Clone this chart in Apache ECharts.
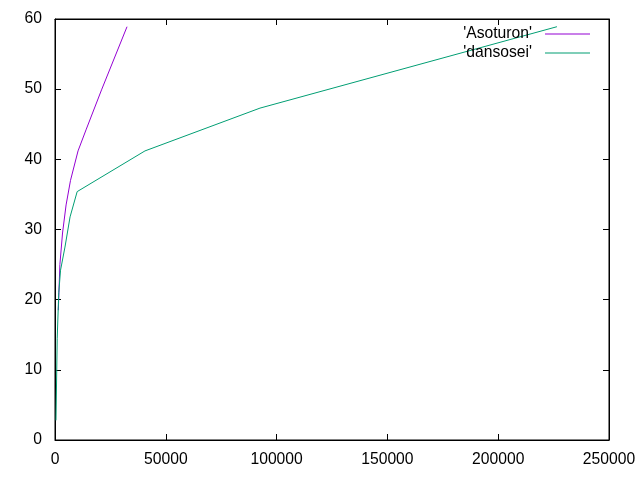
<!DOCTYPE html>
<html><head><meta charset="utf-8">
<script src="https://cdn.jsdelivr.net/npm/echarts@6/dist/echarts.min.js"></script>
<style>html,body{margin:0;padding:0;background:#fff}#c{width:640px;height:480px}</style>
</head><body><div id="c"></div>
<script>
const seriesNames = ["'Asoturon'", "'dansosei'"];
const asoturonX = [1500, 2200, 3400, 5000, 7000, 10400, 14000, 21000, 32500];
const asoturonY = [18.5, 25, 29.5, 33.5, 37, 41.2, 44.2, 49.9, 58.9];
const dansoseiX = [450, 1000, 1700, 2500, 4500, 6800, 10000, 40600, 92500, 226500];
const dansoseiY = [2.8, 14.5, 21, 24.2, 27.5, 31.8, 35.4, 41.2, 47.3, 58.9];
const xTicks = {min: 0, max: 250000, interval: 50000};
const yTicks = {min: 0, max: 60, interval: 10};

const font = 'Liberation Sans, Arial, sans-serif';
const fs = 15.7;
const chart = echarts.init(document.getElementById('c'), null, {renderer: 'canvas'});
const zip = (xs, ys) => xs.map((x, i) => [x, ys[i]]);
const axisCommon = {
  axisLine: {show: true, onZero: false, lineStyle: {color: '#000', width: 1}},
  axisTick: {show: true, inside: true, length: 6, lineStyle: {color: '#000'}},
  splitLine: {show: false}
};
chart.setOption({
  animation: false,
  grid: {left: 55, right: 31, top: 19, bottom: 40, show: true, borderColor: '#000', borderWidth: 1},
  legend: {
    right: 45, top: 21, orient: 'vertical', align: 'right', itemWidth: 45, itemHeight: 1, itemGap: 3,
    icon: 'rect',
    textStyle: {fontFamily: font, fontSize: fs, color: '#000', lineHeight: 16, padding: [0, 8, 0, 0]},
    data: seriesNames
  },
  xAxis: [
    Object.assign({type: 'value', position: 'bottom', min: xTicks.min, max: xTicks.max, interval: xTicks.interval,
      axisLabel: {fontFamily: font, fontSize: fs, color: '#000', margin: 12, formatter: v => String(v)}}, axisCommon),
    Object.assign({type: 'value', position: 'top', min: xTicks.min, max: xTicks.max, interval: xTicks.interval,
      axisLabel: {show: false}}, axisCommon)
  ],
  yAxis: [
    Object.assign({type: 'value', position: 'left', min: yTicks.min, max: yTicks.max, interval: yTicks.interval,
      axisLabel: {fontFamily: font, fontSize: fs, color: '#000', margin: 13}}, axisCommon),
    Object.assign({type: 'value', position: 'right', min: yTicks.min, max: yTicks.max, interval: yTicks.interval,
      axisLabel: {show: false}}, axisCommon)
  ],
  series: [
    {name: seriesNames[0], type: 'line', data: zip(asoturonX, asoturonY), showSymbol: false, symbol: 'none',
      lineStyle: {color: '#9400d3', width: 1}, itemStyle: {color: '#9400d3'}},
    {name: seriesNames[1], type: 'line', data: zip(dansoseiX, dansoseiY), showSymbol: false, symbol: 'none',
      lineStyle: {color: '#009e73', width: 1}, itemStyle: {color: '#009e73'}}
  ]
});
</script></body></html>
